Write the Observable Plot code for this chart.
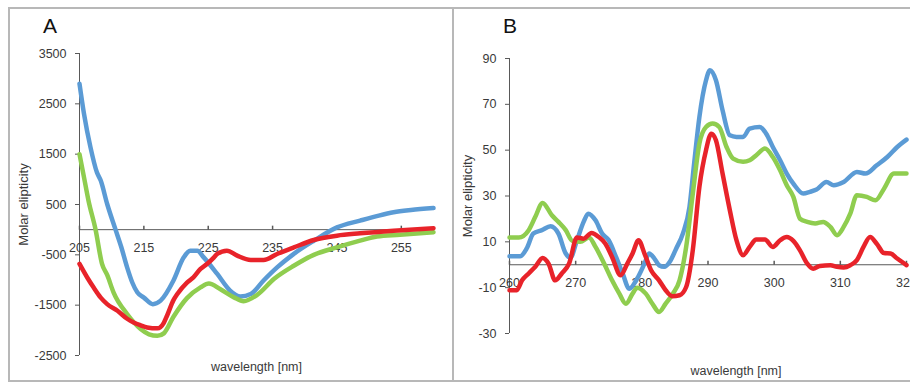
<!DOCTYPE html>
<html>
<head>
<meta charset="utf-8">
<script src="https://cdn.jsdelivr.net/npm/d3@7"></script>
<script src="https://cdn.jsdelivr.net/npm/@observablehq/plot@0.6"></script>
<style>
  html, body { margin: 0; padding: 0; background: #fff; }
  body { position: relative; width: 910px; height: 383px; overflow: hidden;
         font-family: "Liberation Sans", Arial, sans-serif; }
  .frame { position: absolute; left: 8px; top: 7px; width: 920px; height: 371px;
           border: 2px solid #b8b8b8; border-right: none; }
  .divider { position: absolute; left: 452px; top: 7px; width: 2px; height: 375px; background: #b8b8b8; }
  .panel { position: absolute; top: 7px; }
  .letter { position: absolute; top: 15px; font-size: 21px; line-height: 1; color: #111; }
</style>
</head>
<body>
<div class="frame"></div>
<div class="divider"></div>
<div class="letter" style="left:43px">A</div>
<div class="letter" style="left:503px">B</div>
<div id="panelA" class="panel" style="left:8px"></div>
<div id="panelB" class="panel" style="left:455px"></div>
<script>
// Panel A: far-UV CD spectra (205–260 nm)
const blueA_nm = [205, 205.7, 206.7, 207.7, 208.3, 209.3, 210.6, 211.5, 212.4, 213.2, 214.0, 215.0, 216.4, 217.6, 219.6, 221.2, 222.2, 223.3, 224.3, 226.4, 228.4, 230.0, 231.6, 233.6, 235.7, 238.3, 241.4, 245.0, 248.6, 251.5, 253.8, 256.5, 260];
const blueA_val = [2900, 2300, 1640, 1140, 975, 510, 0, -350, -750, -1050, -1250, -1350, -1480, -1410, -1010, -550, -420, -420, -550, -880, -1210, -1330, -1280, -1010, -750, -480, -220, 45, 180, 280, 345, 390, 430];

const redA_nm = [205, 206.2, 207.2, 208.3, 209.3, 210.9, 212.4, 213.4, 214.5, 215.5, 217.1, 218.1, 218.6, 219.6, 220.2, 221.7, 222.7, 223.8, 224.8, 225.9, 226.4, 227.9, 229.5, 231.6, 233.6, 235.7, 238.3, 241.4, 245, 248.6, 253.8, 260];
const redA_val = [-680, -950, -1150, -1350, -1480, -1610, -1770, -1843, -1900, -1942, -1960, -1850, -1710, -1400, -1278, -1050, -948, -780, -683, -551, -483, -417, -517, -603, -603, -483, -352, -205, -119, -73, -20, 30];

const greenA_nm = [205, 205.7, 206.4, 207.5, 208.5, 209.3, 210.3, 212.4, 214.5, 215.8, 217.1, 218.1, 219.6, 221.7, 223.8, 225.1, 226.9, 229, 230.5, 232.6, 235.2, 238.3, 241.4, 245, 248.6, 251.2, 254.8, 260];
const greenA_val = [1500, 1040, 576, 0, -680, -900, -1250, -1676, -1975, -2080, -2110, -2060, -1730, -1360, -1147, -1070, -1185, -1345, -1420, -1295, -980, -716, -500, -352, -219, -135, -100, -50];

const xTicksA = [205, 215, 225, 235, 245, 255];
const yTicksA = [-2500, -1500, -500, 500, 1500, 2500, 3500];

// Panel B: near-UV CD spectra (260–320 nm)
const blueB_nm = [260, 261.6, 262.6, 263.6, 264.9, 266.2, 267.4, 268.5, 269.2, 270.2, 271.2, 271.9, 273, 274, 275, 276.1, 277.1, 278.1, 279.3, 280.4, 281.1, 281.9, 282.6, 283.4, 284.2, 285.2, 286.2, 287.2, 287.9, 288.7, 289.7, 290.3, 291.2, 292.2, 293.3, 294.3, 295.3, 296.3, 297.8, 298.8, 299.8, 300.9, 301.9, 302.9, 304.4, 305.4, 306.4, 307.9, 309, 310.5, 312.5, 313.8, 315.5, 317.1, 318.6, 320];
const blueB_val = [3.7, 3.7, 7.1, 13.6, 15.1, 16.8, 13.6, 4.9, 3.1, 10.7, 18.7, 22.3, 19.4, 13.6, 10.7, 3.4, -3.8, -10.5, -6, 0.5, 4.9, 2.7, -0.2, -0.9, 1.2, 7.1, 13.6, 25.2, 44.1, 64.5, 80.5, 84.9, 80.5, 67.4, 56.5, 55.8, 55.8, 59.4, 60.1, 57.2, 51.4, 45.6, 39.8, 35.4, 31.1, 31.8, 32.8, 36.1, 34.7, 36.1, 40.5, 39.8, 43.4, 47, 51.4, 54.6];

const greenB_nm = [260, 261.4, 262.9, 263.9, 265, 266.4, 267.4, 268.5, 269.5, 270.7, 272, 273, 274.3, 275.5, 276.6, 277.6, 278.6, 279.3, 280.6, 281.6, 282.6, 283.6, 284.7, 285.7, 286.7, 287.7, 288.7, 289.7, 290.7, 291.7, 292.8, 293.8, 295.3, 296.3, 297.3, 298.6, 299.8, 300.9, 301.9, 302.9, 303.9, 305, 306.2, 307.4, 308.5, 309.5, 310.5, 311.5, 312.5, 314, 315.3, 316.6, 318.1, 320];
const greenB_val = [11.9, 11.9, 15.1, 20.9, 27, 21.6, 18.7, 15.1, 10.4, 10, 11.9, 7.8, 0.5, -6.8, -12.6, -17, -12.6, -10, -12.6, -17, -20.6, -17, -12.6, -6.8, 7.8, 31, 52.9, 60.1, 61.6, 60.1, 51.4, 46.3, 44.9, 45.6, 47.8, 50.7, 47, 41.2, 34.7, 29.6, 20.1, 18.7, 18, 18.7, 16.5, 12.9, 16.5, 22.3, 30.3, 29.6, 28.1, 33.2, 39.8, 39.8];

const redB_nm = [260, 261.1, 261.9, 262.9, 263.9, 265, 265.9, 266.9, 267.9, 269, 270.2, 271.2, 272.4, 273.5, 274.5, 275.5, 276.8, 277.8, 278.6, 279.5, 280.4, 281.4, 282.6, 283.6, 284.6, 285.7, 286.7, 287.7, 288.7, 289.7, 290.5, 291.2, 292.2, 293.3, 294.3, 295.3, 296.3, 297.3, 298.6, 299.8, 300.9, 301.9, 302.9, 303.9, 305, 305.9, 306.9, 308.5, 309.5, 310.5, 311.5, 312.5, 313.5, 314.5, 315.5, 316.6, 317.6, 318.6, 320];
const redB_val = [-11.1, -11.1, -6.8, -3.8, -0.9, 3, 0.5, -6.8, -3.8, 0.5, 11.9, 11.4, 13.9, 12.1, 9.2, 3.4, -4.6, 0.5, 4.9, 10.7, 4.9, -2.4, -6.8, -11.1, -13.7, -13.3, -9.7, 6.3, 34, 50, 57.2, 54.3, 39.8, 23.8, 10.7, 4.2, 7.8, 11, 11, 7.8, 10.7, 12.1, 10.4, 6.3, 0.5, -1.7, -0.5, -0.2, -0.9, -1.2, -0.2, 2, 7.8, 12.1, 9.2, 5.1, 4.9, 2.7, -0.2];

const xTicksB = [260, 270, 280, 290, 300, 310, 320];
const yTicksB = [-30, -10, 10, 30, 50, 70, 90];

const colors = { blue: "#5b9bd5", green: "#8fcd4f", red: "#e8232a" };
const axisColor = "#595959";
const textColor = "#3a3a3a";
const tickFont = 12.5;

const toRows = (nm, val) => nm.map((x, i) => ({ nm: x, v: val[i] }));

// short upward tick drawn on the zero line
const tickUp = { draw(ctx) { ctx.moveTo(0, 0); ctx.lineTo(0, -4); } };

function spectrumPanel({ width, margins, xDomain, yDomain, xTicks, yTicks, series, yLabelDx, xLabelDx, xLabelDy }) {
  const [x0, x1] = xDomain;
  const [y0, y1] = yDomain;
  return Plot.plot({
    width, height: 375,
    ...margins,
    x: { domain: xDomain, axis: null },
    y: { domain: yDomain },
    style: { fontFamily: '"Liberation Sans", Arial, sans-serif', fontSize: "12.5px", color: textColor, background: "transparent", overflow: "visible" },
    marks: [
      Plot.ruleX([x0], { y1: y0, y2: y1, stroke: axisColor }),
      Plot.axisY(yTicks, { tickSize: 4, tickPadding: 9, label: null, tickFormat: d => String(d), fontSize: tickFont, stroke: axisColor, fill: textColor }),
      Plot.ruleY([0], { x1: x0, x2: x1, stroke: axisColor }),
      Plot.dot(xTicks, { x: d => d, y: 0, symbol: tickUp, r: 3, stroke: axisColor, fill: "none" }),
      Plot.text(xTicks, { x: d => d, y: 0, dy: 18, text: d => String(d), fontSize: tickFont, fill: textColor }),
      ...series.map(s => Plot.line(toRows(s.nm, s.val), { x: "nm", y: "v", stroke: colors[s.color], strokeWidth: 4.5, curve: "monotone-x" })),
      Plot.text(["Molar elipticity"], { frameAnchor: "left", textAnchor: "middle", lineAnchor: "middle", rotate: -90, dx: yLabelDx, fill: textColor, fontSize: 13 }),
      Plot.text(["wavelength [nm]"], { frameAnchor: "bottom", textAnchor: "middle", lineAnchor: "middle", dx: xLabelDx, dy: xLabelDy, fill: textColor, fontSize: 12.5 })
    ]
  });
}

document.getElementById("panelA").append(spectrumPanel({
  width: 445,
  margins: { marginLeft: 71, marginRight: 20, marginTop: 46, marginBottom: 27 },
  xDomain: [205, 260], yDomain: [-2500, 3500],
  xTicks: xTicksA, yTicks: yTicksA,
  series: [
    { nm: blueA_nm, val: blueA_val, color: "blue" },
    { nm: greenA_nm, val: greenA_val, color: "green" },
    { nm: redA_nm, val: redA_val, color: "red" }
  ],
  yLabelDx: -56, xLabelDx: 0, xLabelDy: 11
}));

document.getElementById("panelB").append(spectrumPanel({
  width: 455,
  margins: { marginLeft: 54, marginRight: 4, marginTop: 51, marginBottom: 49 },
  xDomain: [260, 320], yDomain: [-30, 90],
  xTicks: xTicksB, yTicks: yTicksB,
  series: [
    { nm: blueB_nm, val: blueB_val, color: "blue" },
    { nm: greenB_nm, val: greenB_val, color: "green" },
    { nm: redB_nm, val: redB_val, color: "red" }
  ],
  yLabelDx: -42, xLabelDx: 28, xLabelDy: 37
}));
</script>
</body>
</html>
